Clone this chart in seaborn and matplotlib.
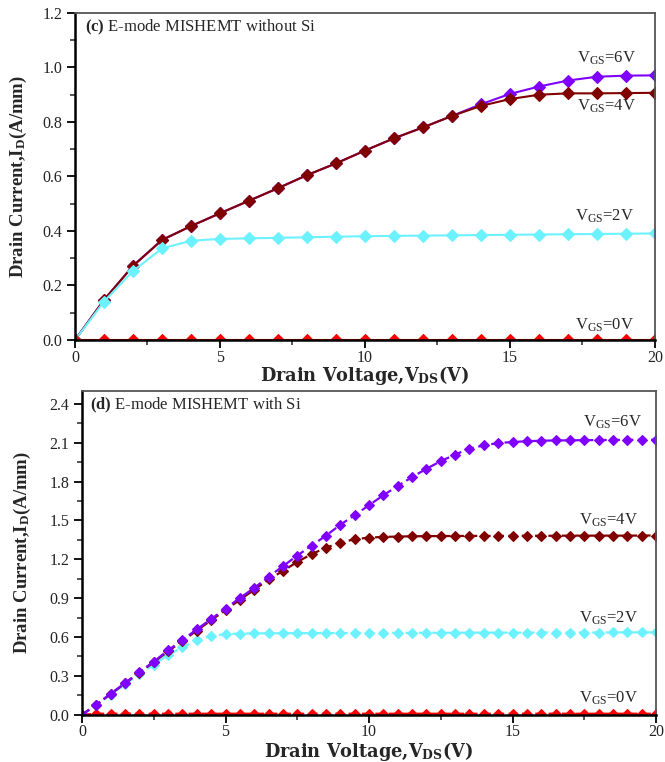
import numpy as np
import pandas as pd
import matplotlib
matplotlib.use("Agg")
import matplotlib.pyplot as plt
import seaborn as sns
from matplotlib.ticker import MultipleLocator, FormatStrFormatter

# ---------------- data ----------------
vds_c = [0, 1, 2, 3, 4, 5, 6, 7, 8, 9, 10, 11, 12, 13, 14, 15, 16, 17, 18, 19, 20]
id_c_6v = [0, 0.147, 0.272, 0.367, 0.418, 0.465, 0.511, 0.557, 0.605, 0.648, 0.695,
           0.740, 0.780, 0.822, 0.865, 0.903, 0.930, 0.952, 0.966, 0.970, 0.971]
id_c_4v = [0, 0.147, 0.272, 0.367, 0.418, 0.465, 0.511, 0.557, 0.605, 0.648, 0.695,
           0.740, 0.780, 0.822, 0.859, 0.884, 0.900, 0.905, 0.905, 0.906, 0.907]
id_c_2v = [0, 0.141, 0.253, 0.336, 0.364, 0.371, 0.373, 0.375, 0.377, 0.379, 0.381,
           0.382, 0.383, 0.384, 0.385, 0.386, 0.387, 0.388, 0.389, 0.390, 0.391]
id_c_0v = [0.0] * 21

vds_d = [0, 0.5, 1, 1.5, 2, 2.5, 3, 3.5, 4, 4.5, 5, 5.5, 6, 6.5, 7, 7.5, 8, 8.5, 9, 9.5,
         10, 10.5, 11, 11.5, 12, 12.5, 13, 13.5, 14, 14.5, 15, 15.5, 16, 16.5, 17, 17.5,
         18, 18.5, 19, 19.5, 20]
id_d_6v = [0, 0.079, 0.163, 0.245, 0.330, 0.410, 0.498, 0.577, 0.660, 0.739, 0.820,
           0.902, 0.979, 1.065, 1.147, 1.229, 1.306, 1.383, 1.467, 1.541, 1.618,
           1.695, 1.766, 1.835, 1.899, 1.958, 2.009, 2.055, 2.080, 2.098, 2.106,
           2.112, 2.116, 2.118, 2.119, 2.120, 2.121, 2.122, 2.123, 2.123, 2.124]
id_d_4v = [0, 0.077, 0.160, 0.242, 0.326, 0.405, 0.490, 0.570, 0.650, 0.730, 0.808,
           0.888, 0.965, 1.045, 1.110, 1.180, 1.240, 1.290, 1.330, 1.355, 1.368,
           1.373, 1.376, 1.378, 1.379, 1.380, 1.380, 1.381, 1.381, 1.381, 1.382,
           1.382, 1.382, 1.382, 1.383, 1.383, 1.383, 1.383, 1.383, 1.384, 1.384]
id_d_2v = [0, 0.076, 0.155, 0.235, 0.314, 0.386, 0.462, 0.520, 0.577, 0.608, 0.623,
           0.627, 0.628, 0.629, 0.629, 0.630, 0.630, 0.631, 0.631, 0.631, 0.632,
           0.632, 0.632, 0.633, 0.633, 0.633, 0.633, 0.634, 0.634, 0.634, 0.634,
           0.634, 0.635, 0.635, 0.635, 0.635, 0.635, 0.636, 0.636, 0.636, 0.636]
id_d_0v = [0.0] + [0.008] * 40

series_labels = ["6V", "4V", "2V", "0V"]
colors = {"6V": "#7F00FF", "4V": "#800000", "2V": "#6CF2FF", "0V": "#FF0000"}

# ---------------- style ----------------
sns.set_theme(style="ticks")
plt.rcParams["font.family"] = ["Liberation Serif", "DejaVu Serif"]
plt.rcParams["mathtext.fontset"] = "custom"
plt.rcParams["mathtext.rm"] = "Liberation Serif"
plt.rcParams["mathtext.it"] = "Liberation Serif:italic"
plt.rcParams["mathtext.bf"] = "Liberation Serif:bold"
plt.rcParams["mathtext.sf"] = "DejaVu Serif:bold"

fig = plt.figure(figsize=(6.65, 7.62), dpi=100)
ax_c = fig.add_axes([0.1128, 0.5538, 0.872, 0.4292])
ax_d = fig.add_axes([0.1233, 0.062, 0.8632, 0.4249])


def make_df(x, ys):
    rows = []
    for lab, y in zip(series_labels, ys):
        for xi, yi in zip(x, y):
            rows.append({"Vds": xi, "Id": yi, "Vgs": lab})
    return pd.DataFrame(rows)


df_c = make_df(vds_c, [id_c_6v, id_c_4v, id_c_2v, id_c_0v])
df_d = make_df(vds_d, [id_d_6v, id_d_4v, id_d_2v, id_d_0v])

# panel (c)
for lab in ["6V", "4V", "2V", "0V"]:
    sub = df_c[df_c["Vgs"] == lab]
    sns.lineplot(data=sub, x="Vds", y="Id", ax=ax_c, color=colors[lab], marker="D",
                 markersize=6.5, linewidth=1.5, markeredgecolor=colors[lab],
                 markeredgewidth=0.8, sort=False, legend=False)

# panel (d)
for lab in ["0V", "2V", "4V", "6V"]:
    sub = df_d[df_d["Vgs"] == lab]
    sns.lineplot(data=sub, x="Vds", y="Id", ax=ax_d, color=colors[lab], marker="D",
                 markersize=5.5, linewidth=1.6, markeredgecolor=colors[lab],
                 markeredgewidth=0.8, sort=False, legend=False)
for ln in ax_d.lines:
    ln.set_linestyle((0, (4, 2)))


def style_axes(ax, ymax, ymaj, ymin, xlab_y, ylab_x):
    ax.set_xlim(0, 20)
    ax.set_ylim(0, ymax)
    ax.xaxis.set_major_locator(MultipleLocator(5))
    ax.xaxis.set_minor_locator(MultipleLocator(2.5))
    ax.yaxis.set_major_locator(MultipleLocator(ymaj))
    ax.yaxis.set_minor_locator(MultipleLocator(ymin))
    ax.yaxis.set_major_formatter(FormatStrFormatter("%.1f"))
    ax.tick_params(axis="both", which="major", direction="out", length=6, width=1.3,
                   labelsize=11.5, pad=3, colors="black", labelcolor="#222222")
    ax.tick_params(axis="x", which="major", pad=1)
    ax.tick_params(axis="both", which="minor", direction="out", length=3.5, width=1.1)
    for s in ["left", "bottom"]:
        ax.spines[s].set_linewidth(1.8)
        ax.spines[s].set_color("black")
    for s in ["top", "right"]:
        ax.spines[s].set_visible(True)
        ax.spines[s].set_linewidth(1.3)
        ax.spines[s].set_color("#555555")
    ax.set_xlabel(r"Drain Voltage,V$_\mathsf{DS}$(V)", fontsize=12.8, fontweight="bold",
                  family=["DejaVu Serif"])
    ax.xaxis.set_label_coords(0.5, xlab_y)
    ax.xaxis.label.set_va("center")
    ax.set_ylabel(r"Drain Current,I$_\mathbf{D}$(A/mm)", fontsize=13.5, fontweight="bold")
    ax.yaxis.set_label_coords(ylab_x, 0.5)
    ax.yaxis.label.set_va("center")


style_axes(ax_c, 1.2, 0.2, 0.1, -0.11, -0.098)
style_axes(ax_d, 2.5, 0.3, 0.15, -0.113, -0.104)

ax_c.text(0.017, 0.957, r"$\mathbf{(c)}$ E-mode MISHEMT without Si", transform=ax_c.transAxes,
          fontsize=12, ha="left", va="center")
ax_d.text(0.014, 0.957, r"$\mathbf{(d)}$ E-mode MISHEMT with Si", transform=ax_d.transAxes,
          fontsize=12, ha="left", va="center")

lab_c = {"6V": (17.3, 1.035), "4V": (17.3, 0.859), "2V": (17.25, 0.455), "0V": (17.25, 0.055)}
lab_d = {"6V": (17.45, 2.255), "4V": (17.33, 1.498), "2V": (17.3, 0.744), "0V": (17.3, 0.13)}
for lab, (x, y) in lab_c.items():
    ax_c.text(x, y, r"V$_\mathrm{GS}$=" + lab, fontsize=12, ha="left", va="center")
for lab, (x, y) in lab_d.items():
    ax_d.text(x, y, r"V$_\mathrm{GS}$=" + lab, fontsize=12, ha="left", va="center")

fig.savefig("out.png", dpi=100)
